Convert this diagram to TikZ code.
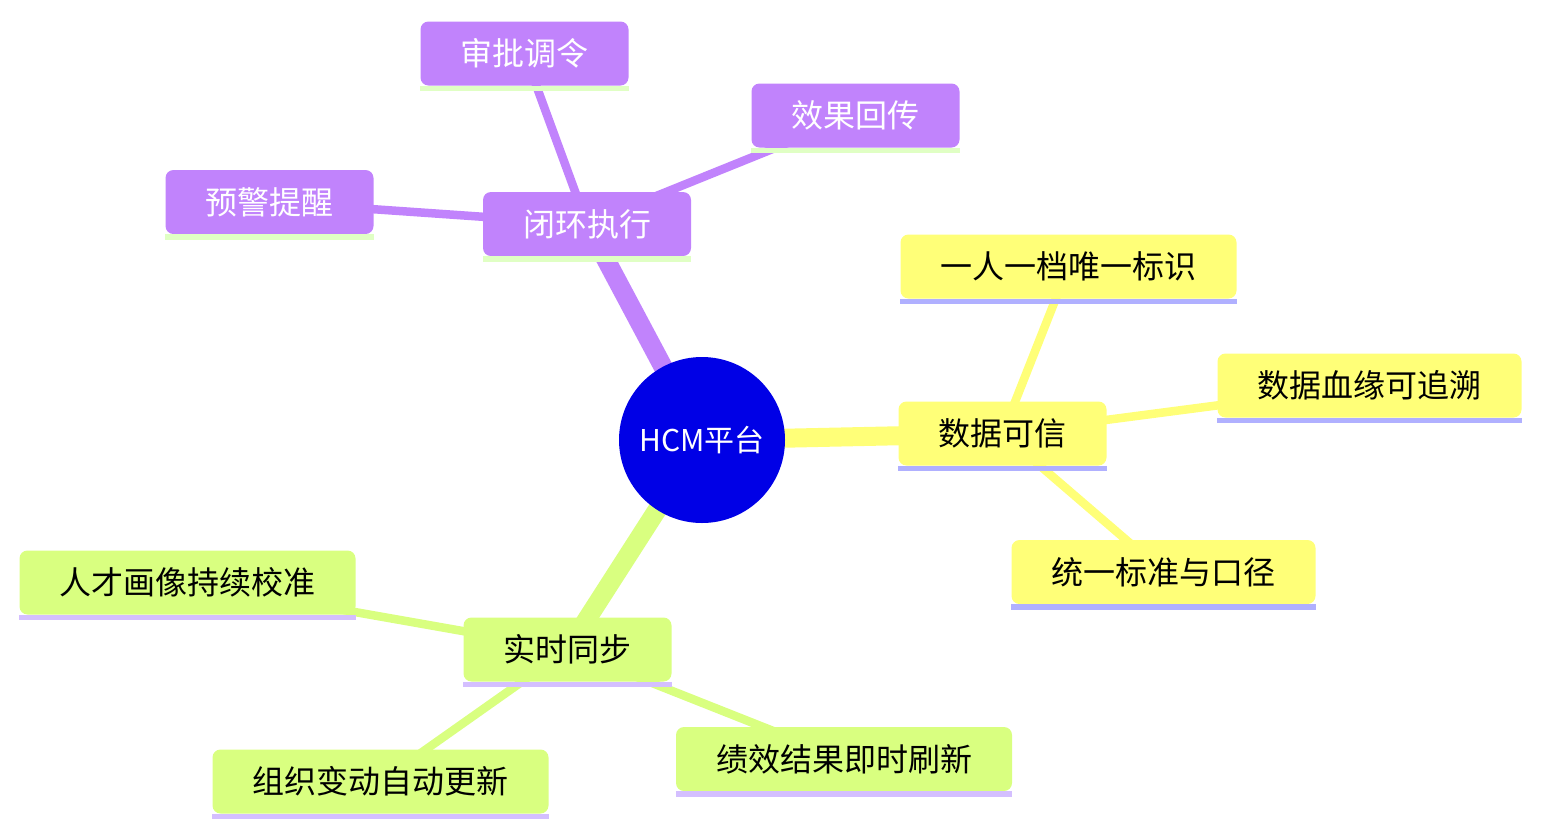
\documentclass[tikz,border=0pt]{standalone}
\usepackage{fontspec}
\setmainfont{Noto Sans CJK SC}
\usepackage{tikz}
\usetikzlibrary{backgrounds}
\definecolor{rootBlue}{RGB}{0, 0, 230}
\definecolor{mainPurple}{RGB}{193, 131, 252}
\definecolor{mainYellow}{RGB}{255, 255, 120}
\definecolor{mainGreen}{RGB}{217, 255, 128}
\definecolor{lineGreen}{RGB}{224, 255, 196}
\definecolor{lineBlue}{RGB}{176, 176, 255}
\definecolor{lineLilac}{RGB}{212, 191, 255}
\tikzset{
  mmroot/.style={circle, fill=rootBlue, text=white, minimum size=166pt, inner sep=0pt, font=\fontsize{30}{36}\selectfont},
  mmbox/.style={rectangle, rounded corners=8pt, minimum height=64pt, inner xsep=40pt, inner ysep=0pt, font=\fontsize{32}{38}\selectfont},
  purplebox/.style={mmbox, fill=mainPurple, text=white},
  yellowbox/.style={mmbox, fill=mainYellow, text=black},
  greenbox/.style={mmbox, fill=mainGreen, text=black},
  underbar/.style={line width=5.5pt},
  trunk/.style={line width=19pt},
  twig/.style={line width=8.5pt}
}

\begin{document}
\begin{tikzpicture}[x=1pt, y=-1pt]
\useasboundingbox (0,0) rectangle (1541,836);
\node[mmroot] (root) at (702,440) {HCM平台};
% purple branch
\node[purplebox] (loop) at (587,224) {闭环执行};
\node[purplebox] (approve) at (524.5,53.5) {审批调令};
\node[purplebox] (feedback) at (855.5,115.5) {效果回传};
\node[purplebox] (alert) at (269.5,202) {预警提醒};
% yellow branch
\node[yellowbox] (trust) at (1002.5,433.5) {数据可信};
\node[yellowbox] (profile) at (1068.5,266.5) {一人一档唯一标识};
\node[yellowbox] (lineage) at (1369.5,385.5) {数据血缘可追溯};
\node[yellowbox] (standard) at (1163.5,572) {统一标准与口径};
% green branch
\node[greenbox] (sync) at (567.5,649.5) {实时同步};
\node[greenbox] (talent) at (187.5,582.5) {人才画像持续校准};
\node[greenbox] (orgchange) at (380.5,781.5) {组织变动自动更新};
\node[greenbox] (perf) at (844,759) {绩效结果即时刷新};
% bars under the boxes
\foreach \n/\c in {loop/lineGreen, approve/lineGreen, feedback/lineGreen, alert/lineGreen,
    trust/lineBlue, profile/lineBlue, lineage/lineBlue, standard/lineBlue,
    sync/lineLilac, talent/lineLilac, orgchange/lineLilac, perf/lineLilac}
  \draw[underbar, \c] ([yshift=-2.75pt]\n.south west) -- ([yshift=-2.75pt]\n.south east);
\begin{scope}[on background layer]
\draw[trunk, mainPurple] (root.center) -- (loop.center);
\draw[trunk, mainYellow] (root.center) -- (trust.center);
\draw[trunk, mainGreen] (root.center) -- (sync.center);
\draw[twig, mainPurple] (loop.center) -- (approve.center);
\draw[twig, mainPurple] (loop.center) -- (feedback.center);
\draw[twig, mainPurple] (loop.center) -- (alert.center);
\draw[twig, mainYellow] (trust.center) -- (profile.center);
\draw[twig, mainYellow] (trust.center) -- (lineage.center);
\draw[twig, mainYellow] (trust.center) -- (standard.center);
\draw[twig, mainGreen] (sync.center) -- (talent.center);
\draw[twig, mainGreen] (sync.center) -- (orgchange.center);
\draw[twig, mainGreen] (sync.center) -- (perf.center);
\end{scope}
\end{tikzpicture}
\end{document}
